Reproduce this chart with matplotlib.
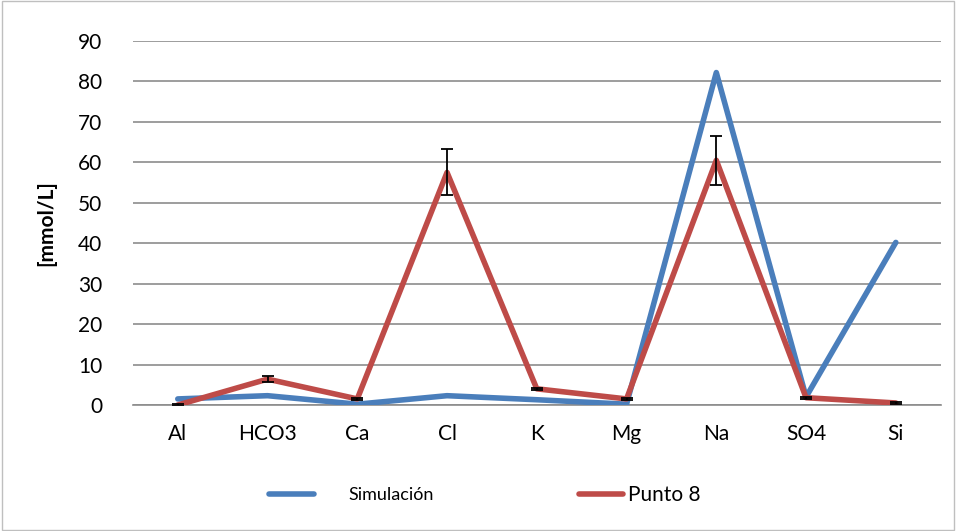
import matplotlib.pyplot as plt
import numpy as np

# datos
categorias = ["Al", "HCO3", "Ca", "Cl", "K", "Mg", "Na", "SO4", "Si"]
simulacion = [1.5, 2.3, 0.2, 2.3, 1.3, 0.2, 82.2, 2.0, 40.2]
punto8 = [0.0, 6.4, 1.5, 57.5, 4.0, 1.5, 60.5, 1.8, 0.5]
punto8_err = [0.2, 0.7, 0.2, 5.7, 0.3, 0.2, 6.0, 0.2, 0.2]

plt.rcParams['font.family'] = ['Lato', 'DejaVu Sans']

fig = plt.figure(figsize=(9.56, 5.31), dpi=100)
ax = fig.add_axes([0.139, 0.2373, 0.845, 0.6855])

x = np.arange(len(categorias))
l1, = ax.plot(x, simulacion, color="#4a7ebb", linewidth=4, label="Simulación",
              solid_joinstyle="round", solid_capstyle="round", zorder=3)
l2, = ax.plot(x, punto8, color="#be4b48", linewidth=4, label="Punto 8",
              solid_joinstyle="round", solid_capstyle="round", zorder=4)
ax.errorbar(x, punto8, yerr=punto8_err, fmt="none", ecolor="black",
            elinewidth=1.3, capsize=4, capthick=1.3, zorder=5)

ax.set_xlim(-0.5, len(categorias) - 0.5)
ax.set_ylim(0, 90)
ax.set_yticks(np.arange(0, 91, 10))
ax.set_xticks(x)
ax.set_xticklabels(categorias)
ax.yaxis.grid(True, color="#8c8c8c", linewidth=1.2)
ax.set_axisbelow(True)
for s in ["top", "right", "left"]:
    ax.spines[s].set_visible(False)
ax.spines["bottom"].set_color("#8c8c8c")
ax.spines["bottom"].set_linewidth(1.2)
ax.tick_params(axis="y", length=0, labelsize=15, pad=22)
ax.tick_params(axis="x", length=0, labelsize=15, pad=14)
ax.set_ylabel("[mmol/L]", fontsize=15, fontweight="bold", labelpad=16)

# leyenda en dos piezas, como en el original
fig.legend(handles=[l1], loc="center left", bbox_to_anchor=(0.281, 0.067),
           frameon=False, fontsize=13, handlelength=2.5, handletextpad=1.9,
           borderpad=0, borderaxespad=0)
fig.legend(handles=[l2], loc="center left", bbox_to_anchor=(0.606, 0.067),
           frameon=False, fontsize=15, handlelength=2.1, handletextpad=0.25,
           borderpad=0, borderaxespad=0)

# borde del gráfico
fig.patches.append(plt.Rectangle((0.002, 0.002), 0.996, 0.996,
                                 transform=fig.transFigure, fill=False,
                                 edgecolor="#bfbfbf", linewidth=1))

fig.savefig("out.png", dpi=100)
